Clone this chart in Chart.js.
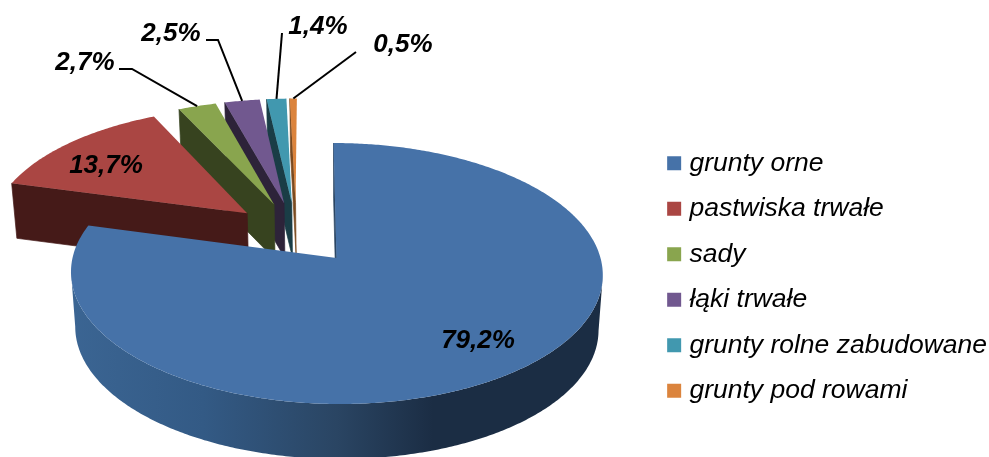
<!DOCTYPE html>
<html>
<head>
<meta charset="utf-8">
<style>
    body { margin: 0; background: #fff; }
    canvas { display: block; }
</style>
<script src="https://cdn.jsdelivr.net/npm/chart.js@4"></script>
</head>
<body>
<canvas id="pieChart" width="989" height="457"></canvas>
<script>
const categories = ['grunty orne', 'pastwiska trwałe', 'sady', 'łąki trwałe', 'grunty rolne zabudowane', 'grunty pod rowami'];
const shares = [79.2, 13.7, 2.7, 2.5, 1.4, 0.5];
const colors = ['#4672A8', '#AA4643', '#89A54E', '#71588F', '#4198AF', '#DB843D'];
const wallColors = ['#1B2D44', '#451A18', '#37431F', '#2D2339', '#1A3D46', '#7A4A20'];

// perspective of the tilted pie, fitted to the picture
const view = { x0: 336.5, y0: 258, k: 264, skew: -3.3, a: -98, c: 0.1188, depth: 55, squeeze: 0.016 };

function project(u, v) {
    const d = 1 + view.c * v;
    return { x: view.x0 + (view.k * u + view.skew * v) / d, y: (view.a * v + view.y0) / d };
}

function lower(p) {
    return { x: p.x + (view.x0 - p.x) * view.squeeze, y: p.y + view.depth };
}

function tracePath(ctx, points) {
    ctx.beginPath();
    points.forEach((p, i) => i ? ctx.lineTo(p.x, p.y) : ctx.moveTo(p.x, p.y));
    ctx.closePath();
}

// apex and rim of one slice, taken from the arc element
function sliceShape(el, shift) {
    const e = el.options.offset / el.outerRadius;
    const mid = (el.startAngle + el.endAngle) / 2;
    const cu = shift.u + e * Math.cos(mid);
    const cv = shift.v - e * Math.sin(mid);
    const rim = [];
    const steps = Math.ceil((el.endAngle - el.startAngle) / 0.01);
    for (let i = 0; i <= steps; i++) {
        const t = el.startAngle + (el.endAngle - el.startAngle) * i / steps;
        rim.push(project(cu + Math.cos(t), cv - Math.sin(t)));
    }
    return { apex: project(cu, cv), rim: rim, rimMid: project(cu + Math.cos(mid), cv - Math.sin(mid)) };
}

function drawBand(ctx, line) {
    tracePath(ctx, line.concat(line.map(lower).reverse()));
    ctx.fill();
}

function drawWalls(ctx, shape, fill) {
    ctx.fillStyle = fill;
    ctx.strokeStyle = fill;
    ctx.lineWidth = 0.7;
    // only the part of the rim facing the viewer, where x runs backwards
    const front = shape.rim.filter((p, i) => i > 0 && p.x < shape.rim[i - 1].x);
    if (front.length > 1) drawBand(ctx, front);
    // the wall along the first radial edge
    drawBand(ctx, [shape.apex, shape.rim[0]]);
    ctx.stroke();
}

const pie3d = {
    id: 'pie3d',
    beforeDatasetsDraw(chart) {
        const ctx = chart.ctx;
        const arcs = chart.getDatasetMeta(0).data;
        const first = arcs[0];
        const e = first.options.offset / first.outerRadius;
        const m = (first.startAngle + first.endAngle) / 2;
        const shift = { u: -e * Math.cos(m), v: e * Math.sin(m) };
        const shapes = arcs.map(el => sliceShape(el, shift));

        const front = ctx.createLinearGradient(70, 0, 604, 0);
        front.addColorStop(0, '#3B6593');
        front.addColorStop(0.25, '#335A85');
        front.addColorStop(0.5, '#2A4563');
        front.addColorStop(0.68, '#1B2D44');
        front.addColorStop(1, '#1B2D44');

        // back to front: the smallest slices sit behind the others
        for (let i = arcs.length - 1; i >= 0; i--) {
            drawWalls(ctx, shapes[i], i === 0 ? front : wallColors[i]);
            tracePath(ctx, [shapes[i].apex].concat(shapes[i].rim));
            ctx.fillStyle = colors[i];
            ctx.fill();
        }

        // value labels and leader lines
        const spots = [[478, 341], [106, 166], [85, 63], [171, 34], [318, 27], [403, 45]];
        const elbows = [null, null, [[119, 69], [132, 69]], [[206, 40], [218, 40]], [[282, 33]], [[356, 52]]];
        ctx.strokeStyle = '#000';
        ctx.lineWidth = 2;
        shapes.forEach((shape, i) => {
            if (!elbows[i]) return;
            ctx.beginPath();
            elbows[i].forEach((p, j) => j ? ctx.lineTo(p[0], p[1]) : ctx.moveTo(p[0], p[1]));
            ctx.lineTo(shape.rimMid.x, shape.rimMid.y);
            ctx.stroke();
        });
        ctx.fillStyle = '#000';
        ctx.font = 'italic bold 26px "Liberation Sans", Arial, sans-serif';
        ctx.textAlign = 'center';
        ctx.textBaseline = 'middle';
        shares.forEach((s, i) => {
            ctx.fillText(s.toFixed(1).replace('.', ',') + '%', spots[i][0], spots[i][1]);
        });
        return false;
    }
};

new Chart(document.getElementById('pieChart'), {
    type: 'pie',
    data: {
        labels: categories,
        datasets: [{
            data: shares,
            backgroundColor: colors,
            borderWidth: 0,
            offset: 40.5
        }]
    },
    options: {
        responsive: false,
        animation: false,
        radius: 160,
        layout: { padding: { top: 97, right: -8 } },
        plugins: {
            tooltip: { enabled: false },
            legend: {
                position: 'right',
                labels: {
                    color: '#000',
                    font: { family: '"Liberation Sans", Arial, sans-serif', size: 26.5, style: 'italic', lineHeight: 1.2 },
                    boxWidth: 4,
                    boxHeight: 4,
                    padding: 19,
                    // the square is a short rect with a thick outline, to get the tight gap before the text
                    generateLabels: () => categories.map((name, i) => ({
                        text: name,
                        fillStyle: colors[i],
                        strokeStyle: colors[i],
                        lineWidth: 10,
                        index: i
                    }))
                }
            }
        }
    },
    plugins: [pie3d]
});
</script>
</body>
</html>
